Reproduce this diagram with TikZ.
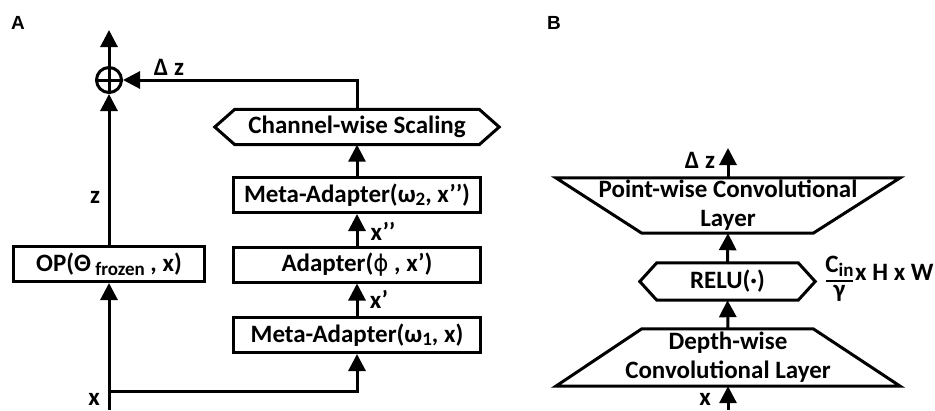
\documentclass[tikz,border=0pt]{standalone}
\usepackage{fontspec}
\setmainfont{Carlito}
\newfontfamily\labfont{Liberation Sans}
\newfontfamily\phifont{DejaVu Sans}
\usetikzlibrary{arrows.meta,calc}
\newcommand\mysubtxt[1]{\raisebox{-0.3ex}{\fontsize{19}{19}\selectfont #1}}
\begin{document}
\begin{tikzpicture}[x=1pt,y=-1pt,
  every node/.style={font=\fontsize{25}{29}\selectfont\bfseries, inner sep=0pt},
  conn/.style={line width=3pt, -{Triangle[length=17pt,width=17pt]}},
  ln/.style={line width=3pt},
  abox/.style={draw, line width=3pt, minimum width=247pt, minimum height=35pt},
  plain/.style={minimum width=#1, minimum height=35pt},
  lab/.style={font=\fontsize{19}{19}\selectfont\bfseries\labfont}]
\useasboundingbox (0,0) rectangle (935,410);

% panel labels
\node[lab] (A) at (18,23) {A};
\node[lab] (B) at (554,23) {B};

% ----- panel A -----
\node[circle, draw, line width=3pt, minimum size=25pt] (plus) at (109,80) {};
\draw[ln] (plus.north) -- (plus.south) (plus.west) -- (plus.east);
\coordinate (topout) at (109,30);
\coordinate (xin) at (109,410);
\coordinate (br) at (109,391);

\node[draw, line width=3pt, minimum width=191pt, minimum height=35pt] (op) at (109,264)
  {OP(Θ\,\mysubtxt{frozen} , x)};
\node[abox] (m1) at (357,335) {Meta-Adapter(ω\mysubtxt{1}, x)};
\node[abox] (ad) at (357,264.5) {Adapter({\phifont\mdseries\fontsize{23}{23}\selectfont ϕ} , x’)};
\node[abox] (m2) at (357,195) {Meta-Adapter(ω\mysubtxt{2}, x’’)};
\node[plain=284pt] (cs) at (357,127) {Channel-wise Scaling};
\draw[ln] (cs.west) -- ($(cs.north west)+(20,0)$) -- ($(cs.north east)+(-20,0)$)
  -- (cs.east) -- ($(cs.south east)+(-20,0)$) -- ($(cs.south west)+(20,0)$) -- cycle;

\draw[conn] (plus.north) -- (topout);
\draw[conn] (op.north) -- (plus.south);
\draw[conn] (xin) -- (op.south);
\draw[conn] (br) -| (m1.south);
\draw[conn] (m1.north) -- (ad.south);
\draw[conn] (ad.north) -- (m2.south);
\draw[conn] (m2.north) -- (cs.south);
\draw[conn] (cs.north) |- (plus.east);

\node (zl) at (95,197) {z};
\node (xl) at (94,399) {x};
\node (dzl) at (169,67) {Δ z};
\node (x1l) at (379,299) {x’};
\node (x2l) at (383,231) {x’’};

% ----- panel B -----
\node[minimum width=344pt, minimum height=55pt, align=center] (pw) at (728,205.5)
  {Point-wise Convolutional\\Layer};
\draw[ln] (pw.north west) -- (pw.north east) -- ($(pw.south east)+(-87,0)$)
  -- ($(pw.south west)+(86,0)$) -- cycle;
\node[minimum width=175pt, minimum height=37pt] (relu) at (727.5,281.5) {RELU(·)};
\draw[ln] (relu.west) -- ($(relu.north west)+(17,0)$) -- ($(relu.north east)+(-17,0)$)
  -- (relu.east) -- ($(relu.south east)+(-17,0)$) -- ($(relu.south west)+(17,0)$) -- cycle;
\node[minimum width=344pt, minimum height=57pt, align=center] (dw) at (728,357.5)
  {Depth-wise\\Convolutional Layer};
\draw[ln] ($(dw.north west)+(86,0)$) -- ($(dw.north east)+(-87,0)$) -- (dw.south east)
  -- (dw.south west) -- cycle;
\coordinate (dzB) at (728,148);
\coordinate (xB) at (728,410);
\draw[conn] (pw.north) -- (dzB);
\draw[conn] (relu.north) -- (pw.south);
\draw[conn] (dw.north) -- (relu.south);
\draw[conn] (xB) -- (dw.south);

\node (dzBl) at (700,160) {Δ z};
\node (xBl) at (705,399) {x};
\node (cin) at (839.5,266.5) {C\mysubtxt{in}};
\node (gam) at (839.5,293) {γ};
\draw[line width=1.5pt] (826,281) -- (853,281);
\node[anchor=west] (dim) at (855,272) {x H x W};
\end{tikzpicture}
\end{document}
